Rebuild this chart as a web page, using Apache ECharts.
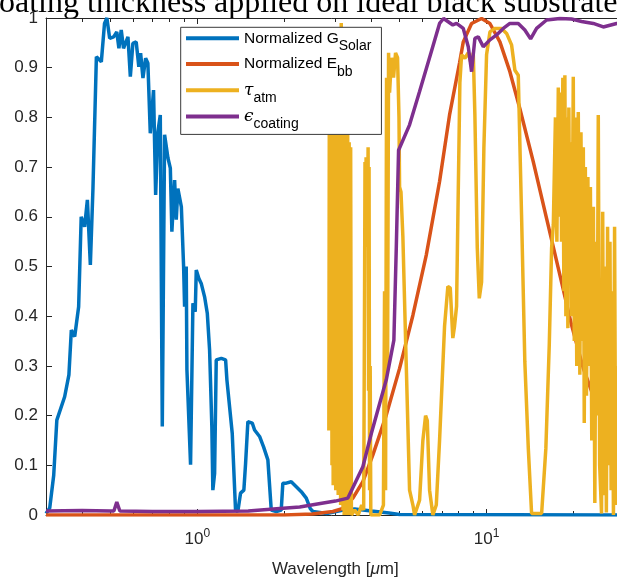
<!DOCTYPE html>
<html><head><meta charset="utf-8">
<script src="https://cdn.jsdelivr.net/npm/echarts@6/dist/echarts.min.js"></script>
<style>html,body{margin:0;padding:0;background:#fff;overflow:hidden}#c{width:617px;height:579px}</style>
</head><body><div id="c"></div>
<script>
const titleText = 'oating thickness applied on ideal black substrate';
const xAxisName = 'Wavelength [μm]';
const seriesNames = ['Normalized G_Solar', 'Normalized E_bb', 'tau_atm', 'epsilon_coating'];
const xMajorTicks = [1, 10];
const xMinorTicks = [0.4, 0.5, 0.6, 0.7, 0.8, 0.9, 2, 3, 4, 5, 6, 7, 8, 9, 20];

// [wavelength (um), value]
const solar = [
[0.300,0.003],[0.309,0.014],[0.319,0.080],[0.327,0.191],[0.348,0.238],[0.360,0.282],[0.367,0.372],[0.377,0.359],[0.389,0.419],[0.397,0.600],[0.408,0.580],[0.417,0.634],[0.427,0.503],[0.436,0.658],[0.448,0.922],[0.466,0.912],[0.478,0.989],[0.487,1.000],[0.498,0.959],[0.514,0.962],[0.527,0.972],[0.536,0.939],[0.546,0.976],[0.556,0.939],[0.576,0.962],[0.587,0.882],[0.599,0.949],[0.615,0.952],[0.628,0.902],[0.637,0.929],[0.649,0.879],[0.663,0.919],[0.675,0.909],[0.688,0.768],[0.706,0.855],[0.718,0.644],[0.731,0.771],[0.745,0.805],[0.757,0.178],[0.771,0.765],[0.792,0.718],[0.807,0.698],[0.817,0.570],[0.835,0.674],[0.846,0.594],[0.857,0.657],[0.881,0.620],[0.897,0.500],[0.904,0.419],[0.916,0.500],[0.921,0.292],[0.948,0.101],[0.966,0.426],[0.984,0.409],[0.992,0.493],[1.013,0.476],[1.032,0.466],[1.060,0.439],[1.083,0.406],[1.103,0.332],[1.123,0.178],[1.132,0.050],[1.148,0.084],[1.163,0.312],[1.211,0.315],[1.253,0.312],[1.266,0.272],[1.286,0.272],[1.321,0.164],[1.356,0.010],[1.381,0.007],[1.411,0.044],[1.449,0.050],[1.469,0.104],[1.496,0.188],[1.549,0.185],[1.578,0.171],[1.642,0.158],[1.695,0.137],[1.754,0.111],[1.802,0.010],[1.876,0.007],[1.951,0.010],[1.976,0.064],[2.030,0.064],[2.113,0.067],[2.199,0.057],[2.288,0.047],[2.381,0.034],[2.458,0.013],[2.510,0.007],[2.800,0.003],[3.200,0.010],[3.500,0.012],[4.000,0.008],[4.600,0.004],[5.000,0.001],[30.0,0.000]
];

const ebb = [
[0.30,0.000],[2.00,0.000],[2.50,0.002],[2.942,0.007],[3.187,0.013],[3.451,0.034],[3.736,0.067],[4.046,0.121],[4.501,0.201],[5.004,0.295],[5.564,0.402],[6.188,0.523],[6.879,0.671],[7.448,0.805],[8.067,0.910],[8.308,0.952],[8.875,0.989],[9.610,0.999],[10.27,0.989],[11.12,0.952],[12.04,0.892],[13.03,0.818],[14.50,0.711],[16.12,0.597],[17.92,0.483],[19.67,0.382],[21.60,0.295],[24.00,0.221],[26.68,0.161],[28.14,0.141],[30.0,0.120]
];

const tau = [
[2.850,0.17],[2.860,0.78],[2.872,0.20],[2.885,0.77],[2.897,0.25],[2.910,0.78],[2.922,0.10],[2.936,0.79],[2.950,0.06],[2.965,0.77],[2.980,0.12],[2.995,0.78],[3.010,0.05],[3.025,0.76],[3.040,0.09],[3.055,0.79],[3.070,0.04],[3.085,0.78],[3.100,0.06],[3.115,0.80],[3.130,0.02],[3.145,0.99],[3.160,0.03],[3.175,0.78],[3.190,0.01],[3.205,0.77],[3.220,0.00],[3.240,0.78],[3.255,0.02],[3.270,0.76],[3.290,0.00],[3.310,0.79],[3.330,0.01],[3.350,0.75],[3.370,0.00],[3.390,0.74],[3.410,0.00],
[3.50,0.01],[3.60,0.00],[3.70,0.02],[3.76,0.01],
[3.787,0.45],[3.800,0.71],[3.818,0.55],[3.833,0.72],[3.848,0.54],[3.863,0.70],[3.879,0.60],[3.895,0.74],[3.910,0.25],[3.925,0.70],[3.941,0.05],[3.960,0.30],[3.980,0.00],
[4.10,0.00],[4.27,0.00],[4.40,0.02],[4.44,0.45],[4.476,0.05],[4.511,0.88],[4.548,0.30],[4.584,0.93],[4.620,0.85],[4.694,0.92],[4.769,0.88],[4.846,0.93],[4.924,0.92],[4.980,0.80],[5.004,0.66],[5.060,0.65],[5.137,0.56],[5.278,0.30],[5.418,0.05],[5.564,0.02],[5.639,0.00],[5.867,0.03],[6.023,0.15],[6.154,0.20],[6.238,0.19],[6.353,0.05],[6.523,0.00],[6.701,0.02],[6.879,0.15],[7.158,0.38],[7.349,0.46],[7.490,0.457],[7.645,0.356],[7.750,0.38],[7.875,0.42],[8.086,0.87],[8.196,0.926],[8.414,0.919],[8.645,0.930],[8.875,0.905],[8.995,0.930],[9.112,0.805],[9.288,0.537],[9.436,0.436],[9.610,0.469],[9.788,0.738],[10.00,0.926],[10.27,0.972],[10.68,0.979],[11.27,0.979],[11.73,0.969],[12.20,0.946],[12.53,0.895],[12.87,0.885],[13.21,0.604],[13.56,0.308],[13.94,0.134],[14.31,0.003],[15.50,0.003],[16.03,0.134],[16.47,0.342],[16.78,0.537],[17.01,0.584],
[17.30,0.80],[17.50,0.55],[17.70,0.86],[17.90,0.60],[18.05,0.85],[18.16,0.55],[18.35,0.88],[18.50,0.45],[18.65,0.885],[18.80,0.40],[18.95,0.80],[19.10,0.376],[19.25,0.82],[19.40,0.49],[19.55,0.75],[19.70,0.40],[19.94,0.882],[20.10,0.35],[20.30,0.80],[20.50,0.30],[20.75,0.811],[21.01,0.282],[21.20,0.77],[21.40,0.35],[21.60,0.74],[21.76,0.185],[21.95,0.70],[22.15,0.24],[22.40,0.68],[22.60,0.30],[22.85,0.66],[23.10,0.15],[23.40,0.62],[23.67,0.024],[23.90,0.55],[24.10,0.20],[24.33,0.805],[24.60,0.10],[24.97,0.003],[25.20,0.61],[25.45,0.04],[25.70,0.50],[25.95,0.005],[26.20,0.58],[26.45,0.10],[26.70,0.55],[26.95,0.05],[27.20,0.45],[27.45,0.00],[27.70,0.58],[27.95,0.02],[28.20,0.30]
];

const eps = [
[0.30,0.008],[0.40,0.009],[0.50,0.008],[0.515,0.008],[0.527,0.026],[0.540,0.008],[0.70,0.007],[1.00,0.007],[1.50,0.008],[1.93,0.013],[2.26,0.016],[2.60,0.022],[3.00,0.028],[3.316,0.034],[3.736,0.097],[3.996,0.164],[4.501,0.272],[4.782,0.352],[4.874,0.537],[4.964,0.734],[5.418,0.785],[5.867,0.852],[6.441,0.932],[6.879,0.989],[7.101,0.999],[7.645,0.986],[7.875,0.989],[8.308,0.979],[8.645,0.942],[8.875,0.892],[9.112,0.959],[9.362,0.962],[9.741,0.942],[10.27,0.956],[10.83,0.966],[11.42,0.979],[12.04,0.989],[12.87,0.989],[13.56,0.976],[14.20,0.958],[14.89,0.979],[16.12,0.996],[17.92,0.999],[19.67,0.998],[21.30,0.993],[23.38,0.989],[25.32,0.982],[28.14,0.989],[30.0,0.990]
];

const colors = ['#0072BD', '#D95319', '#EDB120', '#7E2F8E'];
const legendRich = {
  'Normalized G_Solar': '{m|Normalized G}{s|Solar}',
  'Normalized E_bb': '{m|Normalized E}{s|bb}',
  'tau_atm': '{g|τ}{s|atm}',
  'epsilon_coating': '{g|ϵ}{s|coating}'
};
const axisColor = '#262626';
const FONT = '"Liberation Sans", Arial, Helvetica, sans-serif';

function makeX(pos, ticks, len, showLine, showLabel) {
  return {
    type: 'log', logBase: 10, min: 0.3, max: 30, position: pos,
    axisLine: { show: showLine, onZero: false, lineStyle: { color: axisColor, width: 1 } },
    axisTick: { show: true, inside: true, length: len, customValues: ticks, lineStyle: { color: axisColor, width: 1 } },
    axisLabel: showLabel ? {
      customValues: xMajorTicks, margin: 13, color: axisColor,
      formatter: v => '{b|10}{p|' + Math.round(Math.log10(v)) + '}',
      rich: {
        b: { fontSize: 17, lineHeight: 22, fontFamily: FONT, color: axisColor },
        p: { fontSize: 12, verticalAlign: 'top', fontFamily: FONT, color: axisColor }
      }
    } : { show: false },
    splitLine: { show: false }, minorTick: { show: false }
  };
}

const xAxes = [makeX('bottom', xMajorTicks, 6, true, true), makeX('bottom', xMinorTicks, 4, false, false),
               makeX('top', xMajorTicks, 6, true, false), makeX('top', xMinorTicks, 4, false, false)];
xAxes[0].name = '{n|Wavelength [}{i|μ}{n|m]}';
xAxes[0].nameLocation = 'middle';
xAxes[0].nameGap = 46;
xAxes[0].nameTextStyle = { rich: {
  n: { fontSize: 17, fontFamily: FONT, color: axisColor },
  i: { fontSize: 17, fontFamily: FONT, fontStyle: 'italic', color: axisColor } } };

const dataSets = [solar, ebb, tau, eps];
const chart = echarts.init(document.getElementById('c'), null, { renderer: 'canvas' });
chart.setOption({
  animation: false,
  backgroundColor: '#fff',
  textStyle: { fontFamily: FONT },
  grid: { left: 46, top: 18, bottom: 64, right: -7.6, containLabel: false, outerBoundsMode: 'none' },
  xAxis: xAxes,
  yAxis: {
    type: 'value', min: 0, max: 1, interval: 0.1,
    axisLine: { show: true, lineStyle: { color: axisColor, width: 1 } },
    axisTick: { show: true, inside: true, length: 6, lineStyle: { color: axisColor } },
    axisLabel: { margin: 8, fontSize: 17, color: axisColor, fontFamily: FONT },
    splitLine: { show: false }
  },
  legend: {
    orient: 'vertical', left: 180.7, top: 27.3,
    padding: [3, 10, 3, 5.3], itemGap: 2.7,
    itemWidth: 53, itemHeight: 4, icon: 'rect',
    backgroundColor: '#fff', borderColor: '#3a3a3a', borderWidth: 1,
    data: seriesNames,
    formatter: name => legendRich[name],
    textStyle: {
      color: '#000',
      rich: {
        m: { fontSize: 15.5, lineHeight: 30, fontFamily: FONT, color: '#000' },
        g: { fontSize: 17, lineHeight: 30, fontFamily: '"DejaVu Serif", serif', fontStyle: 'italic', color: '#000' },
        s: { fontSize: 14, verticalAlign: 'bottom', fontFamily: FONT, color: '#000' }
      }
    }
  },
  graphic: [{
    type: 'text', x: -1, y: 3.5, silent: true,
    style: { text: titleText, font: '32px "Liberation Serif", "Times New Roman", serif', fill: '#000', verticalAlign: 'middle', align: 'left' }
  }],
  series: dataSets.map((d, i) => ({
    name: seriesNames[i], type: 'line', xAxisIndex: 0, data: d,
    symbol: 'none', showSymbol: false, silent: true, clip: true,
    lineStyle: { color: colors[i], width: 3.5 }, itemStyle: { color: colors[i] }
  }))
});
</script></body></html>
